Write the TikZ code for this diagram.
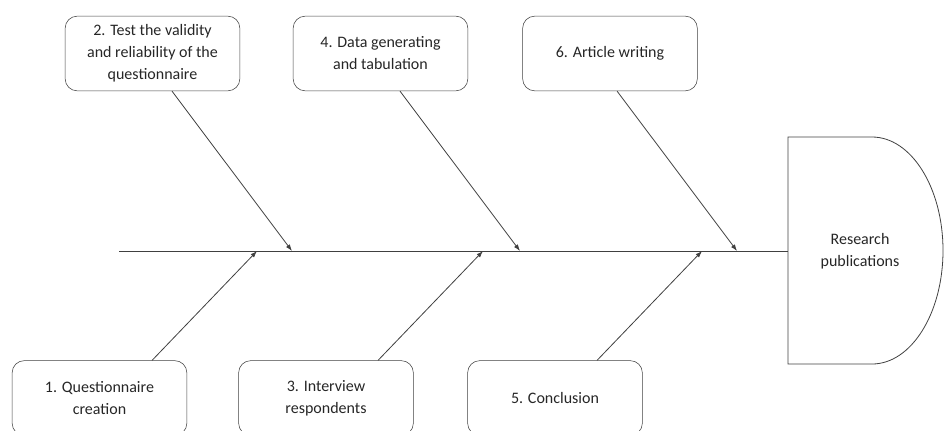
\documentclass[tikz,border=0pt]{standalone}
\usepackage{fontspec}
\setmainfont{Carlito}
\usetikzlibrary{arrows.meta, positioning}

\definecolor{linegray}{HTML}{404040}
\definecolor{textgray}{HTML}{262626}

\tikzset{
  stage/.style={draw=linegray, rounded corners=9pt, minimum width=131pt,
    minimum height=56pt, align=center, text=textgray,
    font=\fontsize{12}{16.5}\selectfont},
  bone/.style={draw=linegray, line width=0.6pt, -{Latex[length=5pt,width=3.5pt]}}
}

\begin{document}
\begin{tikzpicture}[x=0.75pt, y=-0.75pt]
        \useasboundingbox (0,0) rectangle (944,430);

        % Define the nodes
        \node[stage] (s2) at (152.5,53.5) {2. Test the validity\\and reliability of the\\questionnaire};
        \node[stage] (s4) at (380.5,53.5) {4. Data generating\\and tabulation};
        \node[stage] (s6) at (610,53.5) {6. Article writing};
        \node[stage] (s1) at (99.5,398) {1. Questionnaire\\creation};
        \node[stage] (s3) at (326,398) {3. Interview\\respondents};
        \node[stage] (s5) at (555,398) {5. Conclusion};

        % Define the spine and the result
        \coordinate (tail) at (119,251);
        \coordinate (head) at (788,251);
        \draw[draw=linegray, line width=0.6pt] (tail) -- (head);
        \draw[draw=linegray, line width=0.6pt] (788,137) -- (872,137)
          arc[start angle=-90, end angle=90, x radius=71, y radius=113.5] -- (788,364) -- cycle;
        \node[align=center, text=textgray, font=\fontsize{12}{16.5}\selectfont] (res) at (860,251) {Research\\publications};

        % Define the bones
        \coordinate (b2) at (292,251);
        \coordinate (b4) at (520,251);
        \coordinate (b6) at (737,251);
        \coordinate (b1) at (257,251);
        \coordinate (b3) at (483,251);
        \coordinate (b5) at (702,251);
        \draw[bone] ([xshift=14.6pt]s2.south) -- (b2);
        \draw[bone] ([xshift=14.6pt]s4.south) -- (b4);
        \draw[bone] ([xshift=5.3pt]s6.south) -- (b6);
        \draw[bone] ([xshift=39.4pt]s1.north) -- (b1);
        \draw[bone] ([xshift=39pt]s3.north) -- (b3);
        \draw[bone] ([xshift=31.5pt]s5.north) -- (b5);
    \end{tikzpicture}
\end{document}
